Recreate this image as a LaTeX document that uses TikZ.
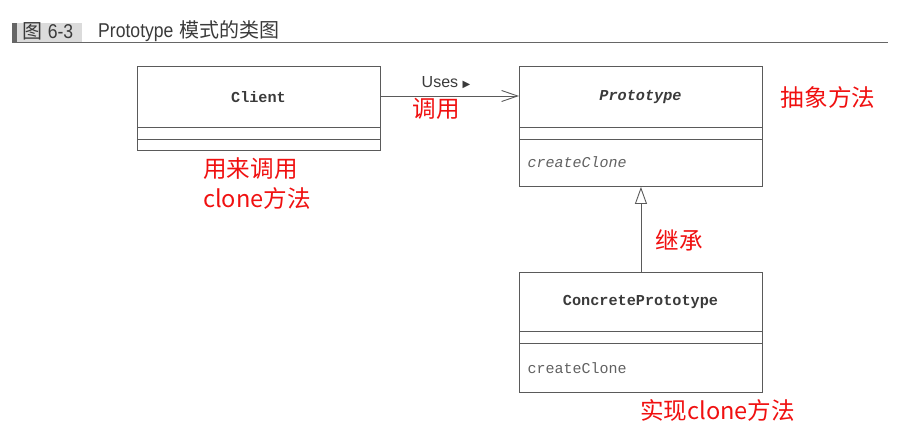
\documentclass[tikz,border=0pt]{standalone}
\usepackage{fontspec}
\setmainfont{Liberation Sans}
\setmonofont{Liberation Mono}
\newfontfamily\cjk{Noto Sans CJK SC}
\newfontfamily\symb{DejaVu Sans}
\newfontfamily\titlefont[FakeStretch=0.88]{Liberation Sans}
\usetikzlibrary{arrows.meta}
\definecolor{boxline}{HTML}{5A5A5A}
\definecolor{txt}{HTML}{3A3A3A}
\definecolor{note}{HTML}{F01010}
\tikzset{
  umlbox/.style={draw=boxline, line width=0.9pt, inner sep=0pt, anchor=north west, minimum width=243pt},
  divider/.style={draw=boxline, line width=0.9pt},
  cname/.style={font=\ttfamily\bfseries\fontsize{15.2}{17}\selectfont, text=txt},
  meth/.style={font=\ttfamily\fontsize{15}{17}\selectfont, text=txt!80, anchor=west},
  notetext/.style={font=\cjk\fontsize{23.6}{30}\selectfont, text=note, align=left},
  conn/.style={draw=boxline, line width=0.9pt},
  titletext/.style={font=\fontsize{20}{22}\selectfont, text=txt, anchor=west, inner sep=0pt},
}
\begin{document}
\begin{tikzpicture}[x=1pt,y=-1pt]
\useasboundingbox (0,0) rectangle (916,447);
% title
\fill[black!60] (12,23) rectangle (17,42);
\fill[black!14] (17,23) rectangle (82,42);
\draw[black!60, line width=0.8pt] (12,42) -- (888,42);
\node[titletext] (fig) at (22,31.5) {{\cjk 图} {\titlefont 6-3}};
\node[titletext] (title) at (98,31.5) {{\titlefont Prototype} {\cjk 模式的类图}};
% Client
\node[umlbox, minimum height=84pt] (client) at (137,66) {};
\node[cname] (clientname) at (258.5,97) {Client};
\draw[divider] (137,127) -- (380,127);
\draw[divider] (137,139) -- (380,139);
% Prototype
\node[umlbox, minimum height=120pt] (proto) at (519,66) {};
\node[cname, font=\ttfamily\bfseries\itshape\fontsize{15.2}{17}\selectfont] (protoname) at (640.5,97) {Prototype};
\draw[divider] (519,127) -- (762,127);
\draw[divider] (519,139) -- (762,139);
\node[meth, font=\ttfamily\itshape\fontsize{15}{17}\selectfont] (protometh) at (524,162) {createClone};
% ConcretePrototype
\node[umlbox, minimum height=120pt] (concrete) at (519,272) {};
\node[cname] (concname) at (640.5,302) {ConcretePrototype};
\draw[divider] (519,331) -- (762,331);
\draw[divider] (519,343) -- (762,343);
\node[meth] (concmeth) at (524,368) {createClone};
% connectors
\draw[conn, -{Straight Barb[length=16pt,width=11pt]}] (client.east |- 0,96) -- (proto.west |- 0,96);
\node[font=\fontsize{16}{18}\selectfont, text=txt] (uses) at (446,83) {Uses {\symb\fontsize{10}{12}\selectfont ▶}};
\draw[conn, -{Triangle[open, length=17pt,width=12pt,fill=white]}] (concrete.north) -- (proto.south);
% notes
\node[notetext] (n1) at (436,109) {调用};
\node[notetext, anchor=north west, inner sep=0pt] (n2) at (203,157) {用来调用\\clone方法};
\node[notetext] (n3) at (828,97) {抽象方法};
\node[notetext] (n4) at (679,240) {继承};
\node[notetext, anchor=west, inner sep=0pt] (n5) at (640,410) {实现clone方法};
\end{tikzpicture}
\end{document}
